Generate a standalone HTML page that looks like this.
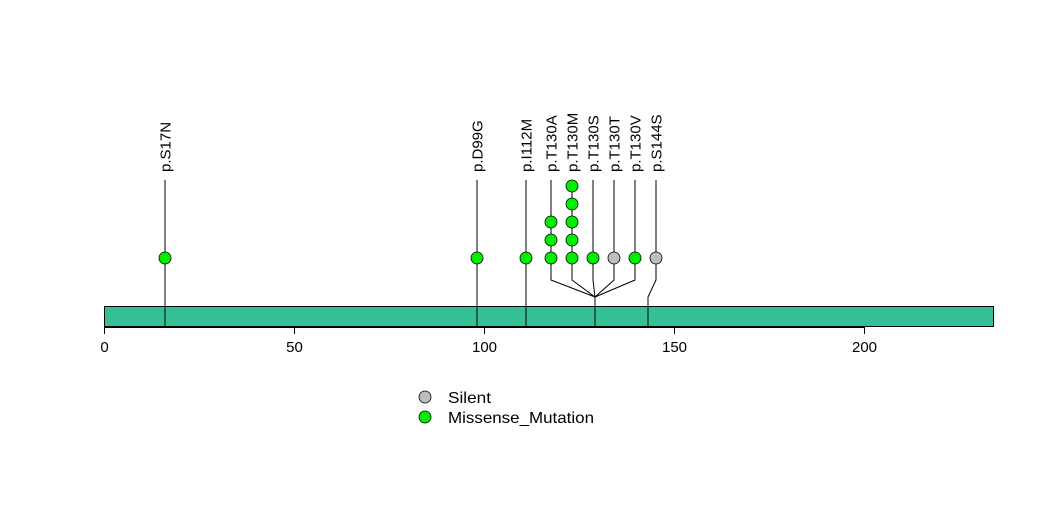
<!DOCTYPE html>
<html><head><meta charset="utf-8"><style>body{margin:0;background:#fff}svg{display:block}</style></head><body>
<svg width="1047" height="524" xmlns="http://www.w3.org/2000/svg" font-family="Liberation Sans, Arial, sans-serif">
<rect width="1047" height="524" fill="#fff"/>
<g stroke="#000" stroke-width="1" fill="none">
<line x1="165" y1="180" x2="165" y2="327"/>
<line x1="477" y1="180" x2="477" y2="327"/>
<line x1="526" y1="180" x2="526" y2="327"/>
<polyline points="551,180 551,280 595,297"/>
<polyline points="572,180 572,280 595,297"/>
<polyline points="593,180 593,280 595,297"/>
<polyline points="614,180 614,280 595,297"/>
<polyline points="635,180 635,280 595,297"/>
<line x1="595" y1="297" x2="595" y2="327"/>
<polyline points="656,180 656,280 648,297 648,327"/>
</g>
<rect x="104.5" y="306.5" width="889" height="20" fill="#35bf96" stroke="#000"/>
<g stroke="#000">
<line x1="165" y1="306" x2="165" y2="327"/>
<line x1="477" y1="306" x2="477" y2="327"/>
<line x1="526" y1="306" x2="526" y2="327"/>
<line x1="595" y1="306" x2="595" y2="327"/>
<line x1="648" y1="306" x2="648" y2="327"/>
<line x1="104" y1="327.5" x2="864" y2="327.5"/>
<line x1="104.5" y1="327" x2="104.5" y2="334"/>
<line x1="294.5" y1="327" x2="294.5" y2="334"/>
<line x1="484.5" y1="327" x2="484.5" y2="334"/>
<line x1="674.5" y1="327" x2="674.5" y2="334"/>
<line x1="864.5" y1="327" x2="864.5" y2="334"/>
</g>
<g font-size="15" text-anchor="middle" fill="#000">
<text x="104.5" y="352">0</text><text x="294.5" y="352">50</text><text x="484.5" y="352">100</text><text x="674.5" y="352">150</text><text x="864.5" y="352">200</text>
</g>
<g stroke="#000" stroke-width="0.8">
<g fill="#00ee00">
<circle cx="165" cy="258" r="6"/><circle cx="477" cy="258" r="6"/><circle cx="526" cy="258" r="6"/>
<circle cx="551" cy="258" r="6"/><circle cx="551" cy="240" r="6"/><circle cx="551" cy="222" r="6"/>
<circle cx="572" cy="258" r="6"/><circle cx="572" cy="240" r="6"/><circle cx="572" cy="222" r="6"/><circle cx="572" cy="204" r="6"/><circle cx="572" cy="186" r="6"/>
<circle cx="593" cy="258" r="6"/><circle cx="635" cy="258" r="6"/>
<circle cx="425" cy="417" r="6"/>
</g>
<g fill="#bebebe">
<circle cx="614" cy="258" r="6"/><circle cx="656" cy="258" r="6"/><circle cx="425" cy="397" r="6"/>
</g>
</g>
<g font-size="15" fill="#000" text-anchor="start">
<text transform="translate(170.5,172) rotate(-90)">p.S17N</text>
<text transform="translate(482.5,172) rotate(-90)">p.D99G</text>
<text transform="translate(531.5,172) rotate(-90)">p.I112M</text>
<text transform="translate(556.5,172) rotate(-90)">p.T130A</text>
<text transform="translate(577.5,172) rotate(-90)">p.T130M</text>
<text transform="translate(598.5,172) rotate(-90)">p.T130S</text>
<text transform="translate(619.5,172) rotate(-90)">p.T130T</text>
<text transform="translate(640.5,172) rotate(-90)">p.T130V</text>
<text transform="translate(661.5,172) rotate(-90)">p.S144S</text>
</g>
<g font-size="16" fill="#000">
<text x="448" y="403" textLength="43" lengthAdjust="spacingAndGlyphs">Silent</text>
<text x="448" y="423" textLength="146" lengthAdjust="spacingAndGlyphs">Missense_Mutation</text>
</g>
</svg>
</body></html>
